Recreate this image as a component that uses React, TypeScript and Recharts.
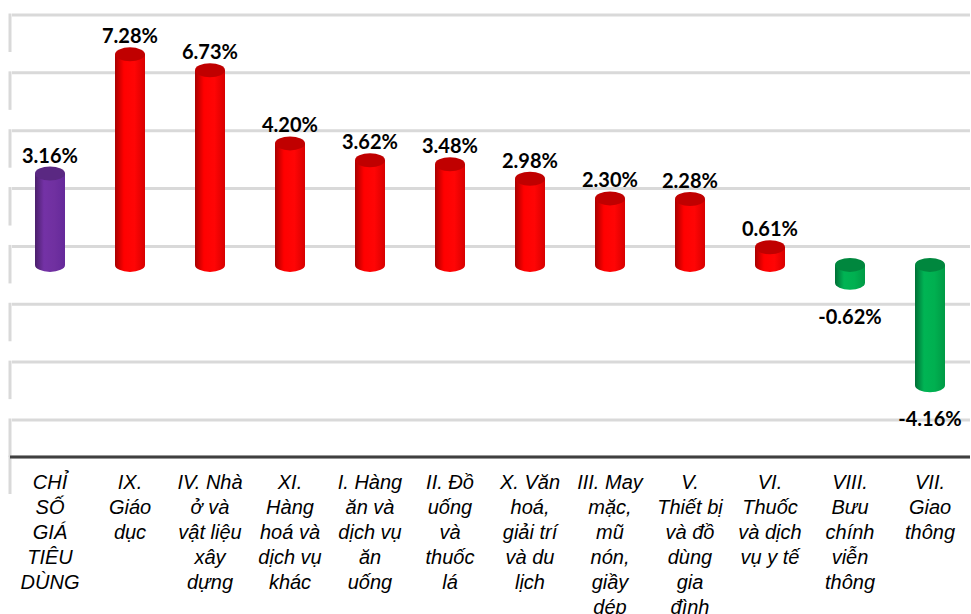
import React from 'react';
import { BarChart, Bar, XAxis, YAxis, CartesianGrid, Cell, LabelList } from 'recharts';

const categories = [
  'CHỈ\nSỐ\nGIÁ\nTIÊU\nDÙNG',
  'IX.\nGiáo\ndục',
  'IV. Nhà\nở và\nvật liệu\nxây\ndựng',
  'XI.\nHàng\nhoá và\ndịch vụ\nkhác',
  'I. Hàng\năn và\ndịch vụ\năn\nuống',
  'II. Đồ\nuống\nvà\nthuốc\nlá',
  'X. Văn\nhoá,\ngiải trí\nvà du\nlịch',
  'III. May\nmặc,\nmũ\nnón,\ngiầy\ndép',
  'V.\nThiết bị\nvà đồ\ndùng\ngia\nđình',
  'VI.\nThuốc\nvà dịch\nvụ y tế',
  'VIII.\nBưu\nchính\nviễn\nthông',
  'VII.\nGiao\nthông',
];

const changes = [3.16, 7.28, 6.73, 4.2, 3.62, 3.48, 2.98, 2.3, 2.28, 0.61, -0.62, -4.16];

const gridTicks = [-6, -4, -2, 0, 2, 4, 6, 8];

const data = categories.map((name, i) => ({ name, value: changes[i] }));

const WALL = 37; // depth of the side wall in px
const FRONT = 18.5; // bars sit halfway into the floor
const RY = 7;

const palette: Record<string, { top: string; stops: string[] }> = {
  purple: { top: '#5a2882', stops: ['#4a1f6b', '#7432a6', '#7030a0', '#65299a'] },
  red: { top: '#c00000', stops: ['#a80000', '#ff0000', '#ff0505', '#d80000'] },
  green: { top: '#00873e', stops: ['#006f36', '#00b454', '#00b050', '#009a45'] },
};

function colorKey(i: number, v: number) {
  if (i === 0) return 'purple';
  return v >= 0 ? 'red' : 'green';
}

function Cylinder(props: any) {
  const { x, y, width, height, fill } = props;
  const top = Math.min(y, y + height) + FRONT;
  const bottom = Math.max(y, y + height) + FRONT;
  const rx = width / 2;
  const cx = x + rx;
  const c = palette[fill] || palette.red;
  return (
    <g>
      <path
        d={`M${x},${top} L${x},${bottom} A${rx},${RY} 0 0 0 ${x + width},${bottom} L${x + width},${top} Z`}
        fill={`url(#cyl-${fill})`}
      />
      <ellipse cx={cx} cy={top} rx={rx} ry={RY} fill={c.top} />
    </g>
  );
}

function ValueLabel(props: any) {
  const { x, y, width, height, value } = props;
  const top = Math.min(y, y + height) + FRONT;
  const bottom = Math.max(y, y + height) + FRONT;
  const cx = x + width / 2;
  const ty = value >= 0 ? top - RY - 4 : bottom + RY + 34;
  return (
    <text x={cx} y={ty} textAnchor="middle" fontFamily="Lato" fontWeight={700} fontSize={20} fill="#000">
      {value.toFixed(2)}%
    </text>
  );
}

function CategoryTick(props: any) {
  const { x, y, payload } = props;
  const lines = String(payload.value).split('\n');
  return (
    <text
      x={x}
      y={y + 32}
      textAnchor="middle"
      fontFamily="'Liberation Sans', Arial, sans-serif"
      fontStyle="italic"
      fontSize={20}
      fill="#000"
    >
      {lines.map((l, i) => (
        <tspan key={i} x={x} dy={i === 0 ? 0 : 25}>
          {l}
        </tspan>
      ))}
    </text>
  );
}

function WallGridLine(props: any) {
  const { x1, y1, x2, index } = props;
  return (
    <g key={`gl-${index}`}>
      <line x1={x1 + 2} y1={y1} x2={x2} y2={y1} stroke="#d9d9d9" strokeWidth={3} />
      <line x1={x1} y1={y1 - 1.5} x2={x1} y2={y1 + WALL} stroke="#d9d9d9" strokeWidth={3} />
    </g>
  );
}

export default function App() {
  return (
    <div style={{ position: 'absolute', left: 0, top: 0, width: 971, height: 614, background: '#fff' }}>
      <BarChart
        width={971}
        height={614}
        data={data}
        margin={{ top: 15, right: 1, bottom: 0, left: 10 }}
        barCategoryGap={0}
      >
        <defs>
          {Object.keys(palette).map((k) => (
            <linearGradient key={k} id={`cyl-${k}`} x1="0" y1="0" x2="1" y2="0">
              <stop offset="0" stopColor={palette[k].stops[0]} />
              <stop offset="0.3" stopColor={palette[k].stops[1]} />
              <stop offset="0.65" stopColor={palette[k].stops[2]} />
              <stop offset="1" stopColor={palette[k].stops[3]} />
            </linearGradient>
          ))}
        </defs>
        <CartesianGrid vertical={false} horizontal={WallGridLine} />
        <YAxis hide domain={[-7.28, 8]} ticks={gridTicks} allowDataOverflow />
        <XAxis
          dataKey="name"
          interval={0}
          height={157}
          tickLine={false}
          tickSize={0}
          tickMargin={0}
          axisLine={{ stroke: '#404040', strokeWidth: 3 }}
          tick={<CategoryTick />}
        />
        <Bar dataKey="value" barSize={30} shape={<Cylinder />} isAnimationActive={false}>
          {data.map((d, i) => (
            <Cell key={i} fill={colorKey(i, d.value)} />
          ))}
          <LabelList dataKey="value" content={<ValueLabel />} />
        </Bar>
      </BarChart>
    </div>
  );
}
